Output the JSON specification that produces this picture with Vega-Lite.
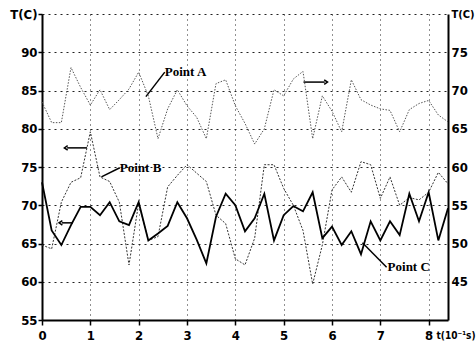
{
  "$schema": "https://vega.github.io/schema/vega-lite/v6.json",
  "width": 406,
  "height": 306,
  "autosize": "none",
  "padding": {"left": 42, "top": 14, "right": 28, "bottom": 28},
  "background": "white",
  "config": {
    "view": {"stroke": null},
    "axis": {
      "labelFont": "DejaVu Sans Condensed",
      "labelFontWeight": "bold",
      "labelFontSize": 13,
      "labelColor": "black",
      "labelFlush": false,
      "labelOverlap": false,
      "domainColor": "black",
      "tickColor": "black",
      "gridColor": "#222",
      "gridWidth": 1
    }
  },
  "datasets": {
    "temps": [
      {"t": 0.0, "A": 68.5, "B": 64.8, "C": 73.0},
      {"t": 0.2, "A": 65.8, "B": 64.3, "C": 66.7},
      {"t": 0.4, "A": 65.8, "B": 70.4, "C": 64.8},
      {"t": 0.6, "A": 73.0, "B": 73.0, "C": 67.4},
      {"t": 0.8, "A": 70.4, "B": 73.6, "C": 69.8},
      {"t": 1.0, "A": 68.1, "B": 79.6, "C": 69.8},
      {"t": 1.2, "A": 70.1, "B": 73.7, "C": 68.7},
      {"t": 1.4, "A": 67.5, "B": 73.1, "C": 70.4},
      {"t": 1.6, "A": 68.8, "B": 70.4, "C": 67.9},
      {"t": 1.8, "A": 70.2, "B": 62.2, "C": 67.4},
      {"t": 2.0, "A": 72.4, "B": 70.3, "C": 70.4},
      {"t": 2.2, "A": 69.3, "B": 65.4, "C": 65.4},
      {"t": 2.4, "A": 63.7, "B": 65.9, "C": 66.3},
      {"t": 2.6, "A": 67.6, "B": 72.4, "C": 67.3},
      {"t": 2.8, "A": 70.1, "B": 73.9, "C": 70.4},
      {"t": 3.0, "A": 68.0, "B": 75.3, "C": 68.3},
      {"t": 3.2, "A": 66.5, "B": 74.2, "C": 65.5},
      {"t": 3.4, "A": 63.7, "B": 73.1, "C": 62.4},
      {"t": 3.6, "A": 70.9, "B": 68.7, "C": 68.5},
      {"t": 3.8, "A": 71.4, "B": 67.6, "C": 71.5},
      {"t": 4.0, "A": 68.0, "B": 63.0, "C": 70.0},
      {"t": 4.2, "A": 65.7, "B": 62.2, "C": 66.6},
      {"t": 4.4, "A": 63.0, "B": 65.7, "C": 68.3},
      {"t": 4.6, "A": 65.0, "B": 75.3, "C": 71.5},
      {"t": 4.8, "A": 70.1, "B": 75.3, "C": 65.4},
      {"t": 5.0, "A": 69.3, "B": 72.2, "C": 68.7},
      {"t": 5.2, "A": 71.5, "B": 70.0, "C": 69.9},
      {"t": 5.4, "A": 72.5, "B": 66.7, "C": 69.2},
      {"t": 5.6, "A": 63.7, "B": 59.7, "C": 71.7},
      {"t": 5.8, "A": 69.3, "B": 64.8, "C": 65.7},
      {"t": 6.0, "A": 67.3, "B": 72.0, "C": 67.2},
      {"t": 6.2, "A": 64.6, "B": 73.7, "C": 64.8},
      {"t": 6.4, "A": 71.4, "B": 71.7, "C": 66.6},
      {"t": 6.6, "A": 68.8, "B": 75.7, "C": 63.6},
      {"t": 6.8, "A": 68.1, "B": 75.3, "C": 67.9},
      {"t": 7.0, "A": 67.6, "B": 70.9, "C": 65.4},
      {"t": 7.2, "A": 67.4, "B": 73.7, "C": 67.9},
      {"t": 7.4, "A": 64.6, "B": 70.0, "C": 66.1},
      {"t": 7.6, "A": 67.5, "B": 71.0, "C": 71.5},
      {"t": 7.8, "A": 68.3, "B": 70.7, "C": 67.9},
      {"t": 8.0, "A": 68.7, "B": 71.7, "C": 71.7},
      {"t": 8.2, "A": 66.8, "B": 74.3, "C": 65.4},
      {"t": 8.4, "A": 65.9, "B": 72.8, "C": 69.6}
    ],
    "labels": [
      {"t": 2.54, "v": 87.4, "text": "Point A"},
      {"t": 1.61, "v": 74.9, "text": "Point B"},
      {"t": 7.15, "v": 61.9, "text": "Point C"}
    ],
    "leaders": [
      {"t": 2.15, "v": 84.2, "t2": 2.54, "v2": 87.4},
      {"t": 1.23, "v": 73.7, "t2": 1.61, "v2": 74.9},
      {"t": 6.63, "v": 65.1, "t2": 7.13, "v2": 61.9}
    ],
    "arrows": [
      {"t": 5.41, "t2": 5.85, "v": 86.1, "tip": 5.85, "dir": "right"},
      {"t": 0.52, "t2": 0.93, "v": 77.5, "tip": 0.52, "dir": "left"},
      {"t": 0.41, "t2": 0.64, "v": 67.7, "tip": 0.41, "dir": "left"}
    ]
  },
  "resolve": {"scale": {"y": "independent"}, "axis": {"y": "independent"}},
  "layer": [
    {
      "encoding": {
        "x": {
          "field": "t", "type": "quantitative",
          "scale": {"domain": [0, 8.4], "nice": false, "zero": false},
          "axis": {
            "values": [0, 1, 2, 3, 4, 5, 6, 7, 8],
            "labelOverlap": false,
            "title": "t(10⁻¹s)",
            "titleFont": "DejaVu Sans Condensed",
            "titleFontWeight": "bold",
            "titleFontSize": 10,
            "titleColor": "black",
            "titleX": 394,
            "titleY": 15,
            "titleAlign": "left",
            "titleAnchor": null,
            "titleBaseline": "middle",
            "domainWidth": 2,
            "tickWidth": 1.5,
            "tickSize": 5,
            "labelPadding": 4,
            "grid": true,
            "gridDash": [1, 4]
          }
        },
        "y": {
          "field": "v", "type": "quantitative",
          "scale": {"domain": [55, 95], "nice": false, "zero": false},
          "axis": {
            "orient": "left",
            "title": null,
            "values": [55, 60, 65, 70, 75, 80, 85, 90, 95],
            "labelOverlap": false,
            "labelExpr": "datum.value == 95 ? 'T(C)' : datum.label",
            "domainWidth": 2,
            "tickWidth": 1.5,
            "tickSize": 4,
            "labelPadding": 1,
            "grid": true,
            "gridDash": [2, 4]
          }
        }
      },
      "layer": [
        {
          "data": {"name": "temps"},
          "mark": {"type": "line", "color": "#333", "strokeWidth": 1, "strokeDash": [2, 1.5]},
          "encoding": {"y": {"field": "B", "type": "quantitative"}}
        },
        {
          "data": {"name": "temps"},
          "mark": {"type": "line", "color": "black", "strokeWidth": 1.8},
          "encoding": {"y": {"field": "C", "type": "quantitative"}}
        },
        {
          "data": {"name": "leaders"},
          "mark": {"type": "rule", "color": "black", "strokeWidth": 1.5},
          "encoding": {
            "x2": {"field": "t2"},
            "y2": {"field": "v2"}
          }
        },
        {
          "data": {"name": "arrows"},
          "mark": {"type": "rule", "color": "black", "strokeWidth": 1.5},
          "encoding": {
            "x2": {"field": "t2"}
          }
        },
        {
          "data": {"name": "arrows"},
          "mark": {"type": "point", "filled": false, "color": "black", "strokeWidth": 1.5, "size": 30, "opacity": 1},
          "encoding": {
            "x": {"field": "tip", "type": "quantitative"},
            "shape": {
              "field": "dir", "type": "nominal", "legend": null,
              "scale": {"domain": ["left", "right"], "range": ["M0.2,-0.8L-1,0L0.2,0.8", "M-0.2,-0.8L1,0L-0.2,0.8"]}
            }
          }
        },
        {
          "data": {"name": "labels"},
          "mark": {"type": "text", "align": "left", "baseline": "middle", "font": "Liberation Serif", "fontWeight": "bold", "fontSize": 13, "color": "black"},
          "encoding": {
            "text": {"field": "text"}
          }
        }
      ]
    },
    {
      "data": {"name": "temps"},
      "mark": {"type": "line", "color": "#555", "strokeWidth": 1, "strokeDash": [1.5, 1.5]},
      "encoding": {
        "x": {"field": "t", "type": "quantitative"},
        "y": {
          "field": "A", "type": "quantitative",
          "scale": {"domain": [40, 80], "nice": false, "zero": false},
          "axis": {
            "orient": "right",
            "title": null,
            "values": [45, 50, 55, 60, 65, 70, 75, 80],
            "labelOverlap": false,
            "labelExpr": "datum.value == 80 ? 'T(C)' : datum.label",
            "labelFontSize": {"condition": {"test": "datum.value == 80", "value": 11}, "value": 13},
            "domainWidth": 2,
            "tickSize": 0,
            "labelPadding": 3,
            "grid": false
          }
        }
      }
    }
  ]
}
